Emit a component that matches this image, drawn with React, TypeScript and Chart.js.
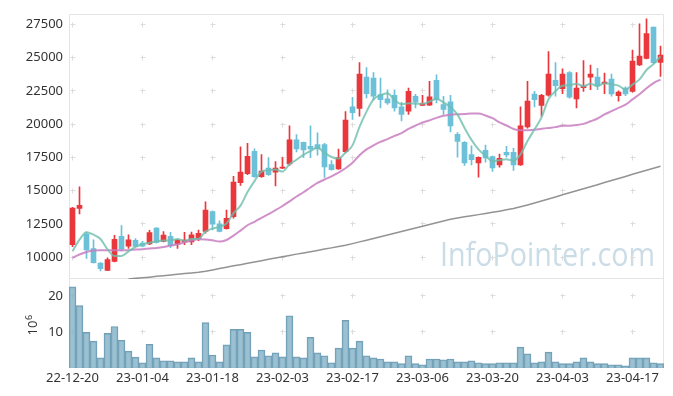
import React, { useEffect, useRef } from 'react';
import { Chart, registerables } from 'chart.js';

Chart.register(...registerables);

const DATES = [
  '22-12-20','22-12-21','22-12-22','22-12-23','22-12-26','22-12-27','22-12-28','22-12-29',
  '23-01-02','23-01-03','23-01-04','23-01-05','23-01-06','23-01-09','23-01-10','23-01-11','23-01-12','23-01-13',
  '23-01-16','23-01-17','23-01-18','23-01-19','23-01-20','23-01-25','23-01-26','23-01-27','23-01-30','23-01-31',
  '23-02-01','23-02-02','23-02-03','23-02-06','23-02-07','23-02-08','23-02-09','23-02-10','23-02-13','23-02-14',
  '23-02-15','23-02-16','23-02-17','23-02-20','23-02-21','23-02-22','23-02-23','23-02-24','23-02-27','23-02-28',
  '23-03-02','23-03-03','23-03-06','23-03-07','23-03-08','23-03-09','23-03-10','23-03-13','23-03-14','23-03-15',
  '23-03-16','23-03-17','23-03-20','23-03-21','23-03-22','23-03-23','23-03-24','23-03-27','23-03-28','23-03-29',
  '23-03-30','23-03-31','23-04-03','23-04-04','23-04-05','23-04-06','23-04-07','23-04-10','23-04-11','23-04-12',
  '23-04-13','23-04-14','23-04-17','23-04-18','23-04-19','23-04-20','23-04-21'
];

const OPEN = [
  10950,13670,11735,10650,9554,9010,9680,11562,10820,11264,
  11060,10990,12180,11190,11560,10990,11140,11140,11390,11934,
  13420,12505,12140,13050,15600,16270,17957,16048,16693,16396,
  16693,17013,18828,18627,18330,18456,18456,16970,16644,17935,
  21305,21180,23535,23460,22220,21900,22175,21305,20985,22100,
  21400,21430,23290,21475,21675,19245,18627,17712,17087,18030,
  17563,16940,17880,17880,16940,19795,22270,21400,22175,23290,
  22665,23885,21900,22740,23535,23535,23037,23386,22145,22717,
  22470,24450,24950,27305,24650
];
const HIGH = [
  13750,15280,11880,11300,9600,9950,11640,12380,11690,11390,
  11200,12010,12230,11930,11860,11350,11860,11880,12030,14165,
  13480,12730,13545,16070,18300,18550,18150,17710,17490,17190,
  17490,19870,19220,18650,19870,19350,18550,17270,18130,20955,
  22025,24630,24257,23885,23460,22590,22590,21650,22717,22250,
  22175,23215,23710,22100,22175,19370,18700,18380,17550,18430,
  17600,17760,18330,18180,21305,23215,22470,22250,25447,24628,
  24150,23950,23885,24777,24450,24200,23833,23760,22500,22800,
  25566,27550,27920,27305,25863
];
const LOW = [
  10800,13250,9900,9550,8960,8990,9650,10450,10650,10800,
  10780,10950,11050,11150,10720,10650,10950,10950,11240,11800,
  12050,11900,12100,12930,15400,16200,16000,16000,16150,15350,
  16650,16890,17910,17490,17490,17660,16000,16550,16600,17830,
  20360,20610,21975,21800,21230,21475,20985,20240,20730,21230,
  21400,21400,21600,20730,19420,17510,16895,16940,16024,17140,
  16450,16770,17510,16520,16900,19700,21305,20610,22100,22100,
  22295,21950,21230,22470,22590,22590,22295,22100,21728,22150,
  22400,24400,24900,24550,23587
];
const CLOSE = [
  13700,13890,10545,9580,9130,9826,11339,10595,11314,10818,
  10830,11859,11115,11660,10870,11290,11290,11690,11785,13545,
  12475,11934,12930,15650,16396,17585,16048,16470,16197,16693,
  16770,18828,18130,18055,18130,18130,16790,16570,17490,20315,
  20858,23760,22295,22100,21850,21600,21230,20730,22470,21650,
  21550,22050,21850,21104,19870,18700,17087,17340,17510,17460,
  16716,17437,17680,16940,19870,21728,21850,22175,23760,22890,
  23760,22025,22717,22890,23760,22890,23163,22270,22420,22270,
  24750,25120,26808,24628,25190
];
// volume in millions of shares
const VOLUME = [
  22.5,17.3,9.9,7.45,2.8,9.6,11.5,7.7,4.7,3.0,
  1.45,6.6,2.8,2.0,2.0,1.7,1.7,2.8,1.7,12.6,
  3.6,1.7,6.4,10.7,10.7,9.9,3.1,5.0,3.4,4.2,
  3.1,14.5,3.1,2.8,8.5,4.2,3.4,1.45,5.5,13.2,
  5.5,7.45,3.4,2.8,2.5,1.7,1.7,1.2,3.4,1.2,
  0.9,2.5,2.5,2.3,2.5,1.7,1.7,2.0,1.45,1.2,
  1.2,1.45,1.45,1.45,5.8,3.9,1.45,1.7,4.4,1.7,
  1.2,1.2,1.7,2.8,1.7,1.2,1.2,0.9,0.9,0.6,
  2.8,2.8,2.8,1.45,1.2
];
const MA5 = [
  10446,11316,11880,11690,11369,10594,10084,10094,10441,10778,
  10979,11083,11187,11256,11267,11359,11245,11360,11385,11920,
  12157,12286,12534,13307,13877,14899,15722,16430,16539,16599,
  16436,16992,17324,17695,17983,18255,17847,17535,17422,17859,
  18405,19799,20944,21866,22173,22321,21815,21502,21576,21536,
  21526,21690,21914,21641,21285,20715,19722,18820,18101,17619,
  17223,17293,17361,17247,17729,18731,19614,20513,21877,22481,
  22887,22922,23030,22856,23030,22856,23084,22995,22901,22603,
  22975,23366,24074,24515,25099
];
const MA20 = [
  9950,10200,10395,10500,10520,10520,10520,10525,10530,10570,
  10600,10650,10690,10760,10870,10960,11120,11250,11340,11334,
  11272,11175,11294,11620,12000,12400,12660,12960,13230,13540,
  13850,14200,14560,14880,15240,15580,15840,16080,16360,16690,
  17100,17660,18100,18410,18670,18870,19120,19330,19640,19888,
  20127,20288,20474,20626,20713,20742,20756,20795,20796,20653,
  20446,20130,19899,19641,19542,19549,19580,19652,19716,19778,
  19889,19888,19931,20020,20215,20424,20728,20975,21220,21461,
  21862,22246,22703,23087,23353
];
const MA60 = [
  null,null,null,null,null,null,null,null,8370,8410,
  8450,8500,8560,8610,8660,8720,8770,8820,8870,8940,
  9040,9150,9250,9350,9440,9540,9640,9740,9840,9940,
  10030,10130,10230,10320,10410,10510,10610,10700,10800,10900,
  11020,11150,11280,11410,11540,11670,11800,11930,12060,12200,
  12330,12460,12590,12720,12850,12950,13040,13120,13200,13280,
  13370,13460,13560,13660,13790,13930,14080,14230,14380,14530,
  14690,14840,14990,15140,15300,15450,15610,15760,15920,16070,
  16230,16380,16530,16690,16840
];

const PRICE_TICKS = [10000, 12500, 15000, 17500, 20000, 22500, 25000, 27500];
const VOL_TICKS = [10, 20];
const LABEL_EVERY = 10;
const WATERMARK = 'InfoPointer.com';
const VOL_UNIT = '10';
const VOL_EXP = '6';

const RED = '#ea373c';
const BLUE = '#6cc1d8';
const FONT = '"Noto Sans", "Open Sans", sans-serif';

const decor = {
  id: 'decor',
  beforeDatasetsDraw(chart: any) {
    const { ctx, scales } = chart;
    const x = scales.x, y = scales.y, yv = scales.yv;
    ctx.save();
    // watermark
    ctx.font = '33px "Open Sans"';
    ctx.fillStyle = 'rgba(150,185,205,0.5)';
    ctx.textBaseline = 'alphabetic';
    ctx.textAlign = 'left';
    const w = ctx.measureText(WATERMARK).width;
    const targetW = 215;
    ctx.save();
    ctx.translate(x.right - 9 - targetW, y.bottom - 12.7);
    ctx.scale(targetW / w, 1);
    ctx.fillText(WATERMARK, 0, 0);
    ctx.restore();

    // grid crosses
    ctx.strokeStyle = '#dcdcdc';
    ctx.lineWidth = 1;
    const cross = (px: number, py: number) => {
      const cx = Math.floor(px) + 0.5;
      const cy = Math.floor(py) + 0.5;
      ctx.beginPath();
      ctx.moveTo(cx - 2, cy); ctx.lineTo(cx + 3, cy);
      ctx.moveTo(cx, cy - 2); ctx.lineTo(cx, cy + 3);
      ctx.stroke();
    };
    for (let i = 0; i < DATES.length; i += LABEL_EVERY) {
      const px = x.getPixelForValue(i);
      PRICE_TICKS.forEach(v => cross(px, y.getPixelForValue(v)));
      VOL_TICKS.forEach(v => cross(px, yv.getPixelForValue(v)));
    }

    // panel borders
    ctx.strokeStyle = '#e4e4e4';
    ctx.beginPath();
    const L = Math.round(x.left) + 0.5, R = Math.round(x.right) - 0.5;
    const T = Math.round(y.top) + 0.5, M = Math.round(y.bottom) - 0.5, B = Math.round(yv.bottom) - 0.5;
    ctx.moveTo(L, T); ctx.lineTo(R, T);
    ctx.moveTo(L, M); ctx.lineTo(R, M);
    ctx.moveTo(L, B); ctx.lineTo(R, B);
    ctx.moveTo(L, T); ctx.lineTo(L, B);
    ctx.moveTo(R, T); ctx.lineTo(R, B);
    ctx.stroke();
    ctx.restore();
  },
  afterDraw(chart: any) {
    const { ctx, scales } = chart;
    const yv = scales.yv;
    const cy = (yv.top + yv.bottom) / 2;
    ctx.save();
    ctx.translate(37, cy + 12);
    ctx.rotate(-Math.PI / 2);
    ctx.fillStyle = '#333';
    ctx.textBaseline = 'alphabetic';
    ctx.textAlign = 'left';
    ctx.font = '13px ' + FONT;
    const w = ctx.measureText(VOL_UNIT).width;
    ctx.fillText(VOL_UNIT, 0, 0);
    ctx.font = '9px ' + FONT;
    ctx.fillText(VOL_EXP, w + 0.5, -5);
    ctx.restore();
  }
};

export default function App() {
  const ref = useRef<HTMLCanvasElement>(null);
  useEffect(() => {
    document.body.style.margin = '0';
    const canvas = ref.current!;
    const colors = OPEN.map((o, i) => (CLOSE[i] >= o ? RED : BLUE));
    const tickFont = { family: FONT, size: 13 };
    const chart = new Chart(canvas, {
      type: 'bar',
      data: {
        labels: DATES,
        datasets: [
          { type: 'line', label: 'MA5', data: MA5, yAxisID: 'y', borderColor: 'rgba(110,190,172,0.8)', borderWidth: 2, pointRadius: 0, order: 0, cubicInterpolationMode: 'monotone' } as any,
          { type: 'line', label: 'MA20', data: MA20, yAxisID: 'y', borderColor: 'rgba(200,125,192,0.85)', borderWidth: 2, pointRadius: 0, order: 0, cubicInterpolationMode: 'monotone' } as any,
          { type: 'line', label: 'MA60', data: MA60, yAxisID: 'y', borderColor: 'rgba(120,120,120,0.8)', borderWidth: 1.5, pointRadius: 0, order: 0, spanGaps: false } as any,
          { type: 'bar', label: 'body', data: OPEN.map((o, i) => [o, CLOSE[i]]), yAxisID: 'y', backgroundColor: colors, barThickness: 5, grouped: false, minBarLength: 1, order: 1 } as any,
          { type: 'bar', label: 'wick', data: LOW.map((l, i) => [l, HIGH[i]]), yAxisID: 'y', backgroundColor: colors, barThickness: 1, grouped: false, order: 1 } as any,
          { type: 'bar', label: 'volume', data: VOLUME, yAxisID: 'yv', backgroundColor: 'rgba(130,176,198,0.8)', borderColor: 'rgba(112,158,182,1)', borderWidth: 1, barPercentage: 1, categoryPercentage: 1, grouped: false, order: 2 } as any,
        ],
      },
      options: {
        responsive: false,
        animation: false,
        devicePixelRatio: 1,
        layout: { padding: { left: 0, right: 9, top: 10, bottom: 0 } },
        plugins: { legend: { display: false }, tooltip: { enabled: false } },
        scales: {
          x: {
            type: 'category',
            offset: true,
            grid: { display: false, drawTicks: false },
            border: { display: false },
            ticks: {
              autoSkip: false, maxRotation: 0, minRotation: 0, padding: 2,
              color: '#333', font: tickFont,
              callback: (_v: any, i: number) => (i % LABEL_EVERY === 0 ? DATES[i] : null),
            },
            afterFit: (s: any) => { s.height = 28; },
          },
          yv: {
            type: 'linear', position: 'left', stack: 'main', stackWeight: 90,
            min: 0, max: 24.7,
            grid: { display: false, drawTicks: false },
            border: { display: false },
            afterBuildTicks: (s: any) => { s.ticks = VOL_TICKS.map(v => ({ value: v })); },
            ticks: { padding: 6, color: '#333', font: tickFont, callback: (v: any) => String(v) },
            afterFit: (s: any) => { s.width = 69; },
          },
          y: {
            type: 'linear', position: 'left', stack: 'main', stackWeight: 268,
            min: 8364, max: 28296,
            grid: { display: false, drawTicks: false },
            border: { display: false },
            afterBuildTicks: (s: any) => { s.ticks = PRICE_TICKS.map(v => ({ value: v })); },
            ticks: { padding: 6, color: '#333', font: tickFont, callback: (v: any) => String(v) },
            afterFit: (s: any) => { s.width = 69; },
          },
        },
      } as any,
      plugins: [decor],
    });
    return () => chart.destroy();
  }, []);
  return <canvas ref={ref} width={673} height={396} style={{ display: 'block', width: 673, height: 396 }} />;
}
